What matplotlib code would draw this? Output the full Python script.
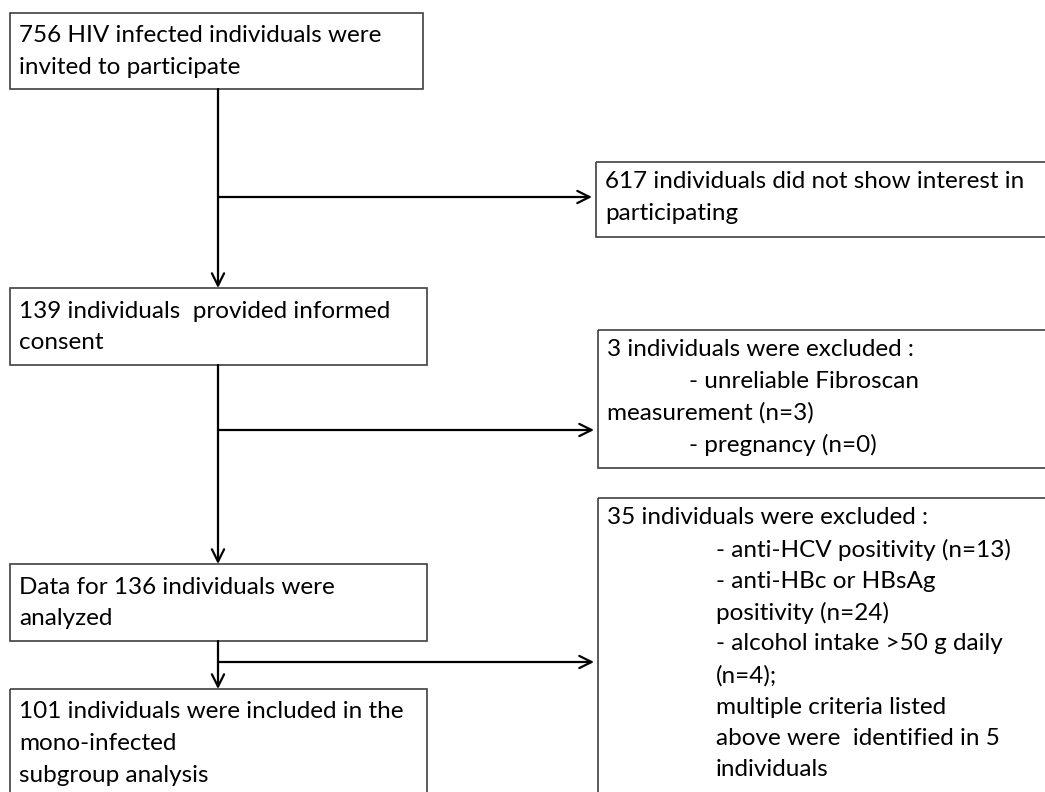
import matplotlib.pyplot as plt
from matplotlib.patches import Rectangle

plt.rcParams['font.family'] = ['Lato', 'DejaVu Sans']

# box texts (one entry per line) and indent level of each line
main_texts = [
    ["756 HIV infected individuals were", "invited to participate"],
    ["139 individuals  provided informed", "consent"],
    ["Data for 136 individuals were", "analyzed"],
    ["101 individuals were included in the", "mono-infected", "subgroup analysis"],
]
side_texts = [
    ["617 individuals did not show interest in", "participating"],
    ["3 individuals were excluded :", "- unreliable Fibroscan",
     "measurement (n=3)", "- pregnancy (n=0)"],
    ["35 individuals were excluded :", "- anti-HCV positivity (n=13)",
     "- anti-HBc or HBsAg", "positivity (n=24)", "- alcohol intake >50 g daily",
     "(n=4);", "multiple criteria listed", "above were  identified in 5",
     "individuals"],
]
side_indent = [
    [0, 0],
    [0, 1, 0, 1],
    [0, 1, 1, 1, 1, 1, 1, 1, 1],
]

# layout (pixels, y down)
W, H = 1045, 792
main_box = [(10, 13, 413, 76), (10, 288, 417, 77), (10, 564, 417, 77), (10, 689, 417, 110)]
side_box = [(596, 162, 460, 75), (598, 330, 460, 138), (598, 498, 460, 300)]
side_arrow_y = [197, 430, 662]
indent_px = [0, 82, 109]
trunk_x = 218
lh = 31.5

fig = plt.figure(figsize=(W / 100, H / 100), dpi=100)
ax = fig.add_axes([0, 0, 1, 1])
ax.set_xlim(0, W)
ax.set_ylim(H, 0)
ax.axis('off')

fs = 17.5


def draw_box(rect, lines, indents, first):
    x, y, w, h = rect
    ax.add_patch(Rectangle((x, y), w, h, fill=False, edgecolor='#404040', linewidth=1.2))
    for i, t in enumerate(lines):
        ax.text(x + 9 + indents[i], y + first + i * lh, t, fontsize=fs,
                va='center', ha='left', color='black')


for rect, lines in zip(main_box, main_texts):
    draw_box(rect, lines, [0] * len(lines), 23)

for k, (rect, lines) in enumerate(zip(side_box, side_texts)):
    ind = [indent_px[k] * v for v in side_indent[k]]
    draw_box(rect, lines, ind, 20)

arrow_kw = dict(arrowstyle='->', color='black', lw=1.6, mutation_scale=22,
                shrinkA=0, shrinkB=0)

# vertical trunk arrows
for a, b in zip(main_box[:-1], main_box[1:]):
    ax.annotate('', xy=(trunk_x, b[1]), xytext=(trunk_x, a[1] + a[3]), arrowprops=arrow_kw)

# side arrows
for ya, rect in zip(side_arrow_y, side_box):
    ax.annotate('', xy=(rect[0] - 4, ya), xytext=(trunk_x, ya), arrowprops=arrow_kw)

fig.savefig('out.png', dpi=100)
